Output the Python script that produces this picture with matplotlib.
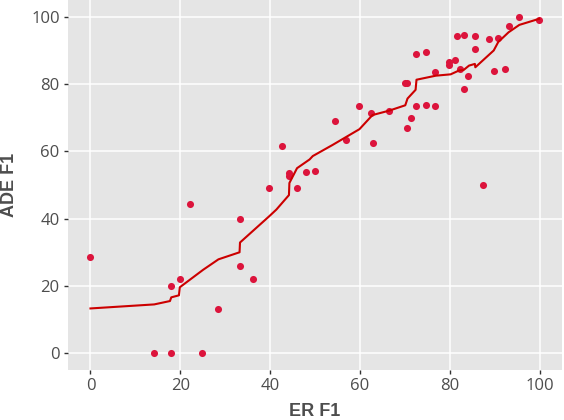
import matplotlib
matplotlib.use("Agg")
import matplotlib.pyplot as plt

# scatter points (ER F1, ADE F1)
er_f1 = [0, 14.2, 18.0, 24.8, 18.0, 19.9, 22.1, 28.5, 33.2, 33.2, 36.1,
         39.8, 42.7, 44.2, 44.2, 46.0, 47.9, 49.9, 54.4, 57.0, 59.9, 62.4,
         63.0, 66.4, 70.1, 70.4, 70.4, 71.3, 72.6, 72.5, 74.8, 74.8, 76.8,
         76.8, 79.8, 79.8, 81.2, 81.7, 83.1, 82.3, 84.0, 83.1, 85.6, 85.6,
         87.4, 88.8, 90.8, 89.9, 92.2, 93.1, 95.5, 99.9]
ade_f1 = [28.6, 0, 0, 0, 19.9, 22.2, 44.5, 13.2, 40.0, 25.9, 22.2,
          49.0, 61.6, 53.6, 52.6, 49.0, 53.9, 54.3, 69.1, 63.3, 73.4, 71.5,
          62.6, 71.9, 80.2, 80.2, 66.9, 69.9, 73.4, 89.0, 89.6, 73.8, 73.4,
          83.6, 86.5, 85.7, 87.3, 94.2, 94.5, 84.6, 82.5, 78.6, 94.2, 90.3,
          50.0, 93.3, 93.6, 83.9, 84.5, 97.2, 100.0, 99.2]

# smoothed trend line
trend_x = [0, 14.2, 17.7, 18.0, 19.7, 19.9, 25.1, 28.5, 33.2, 33.3, 39.8,
           41.4, 44.2, 44.3, 46.0, 48.8, 49.5, 53.9, 59.9, 62.8, 66.5, 70.1,
           70.6, 72.4, 72.6, 76.9, 80.2, 82.0, 83.1, 84.3, 85.6, 85.7, 89.8,
           90.8, 93.1, 95.5, 99.9]
trend_y = [13.3, 14.5, 15.5, 16.6, 17.2, 19.6, 24.8, 27.9, 30.0, 32.9, 40.7,
           42.7, 47.0, 50.6, 55.0, 57.6, 58.6, 61.9, 66.6, 70.8, 72.1, 73.7,
           75.7, 78.3, 81.3, 82.5, 82.9, 84.0, 84.2, 85.5, 86.0, 85.0, 90.0,
           92.5, 95.4, 97.6, 99.4]

ticks = [0, 20, 40, 60, 80, 100]

plt.rcParams['font.family'] = ['Open Sans', 'DejaVu Sans']

fig = plt.figure(figsize=(5.64, 4.2), dpi=100)
ax = fig.add_axes([68 / 564, 50 / 420, 494 / 564, 370 / 420])
ax.set_facecolor('#E5E5E5')
for s in ax.spines.values():
    s.set_visible(False)

ax.grid(True, color='white', linewidth=1.1)
ax.set_axisbelow(True)

ax.scatter(er_f1, ade_f1, s=26, color='#DC143C', zorder=3, linewidths=0)
ax.plot(trend_x, trend_y, color='#CC0000', linewidth=1.5, zorder=4)

ax.set_xlim(-5, 105)
ax.set_ylim(-5, 105)
ax.set_xticks(ticks)
ax.set_yticks(ticks)
ax.tick_params(axis='both', colors='#333333', length=3, width=1,
               labelsize=12, labelcolor='#4D4D4D', pad=3)

title_font = dict(fontsize=13, fontweight='bold', color='#4D4D4D',
                  family=['Liberation Sans', 'DejaVu Sans'])
ax.set_xlabel('ER F1', va='bottom', **title_font)
ax.set_ylabel('ADE F1', va='top', **title_font)
ax.xaxis.set_label_coords(0.5, -50 / 370)
ax.yaxis.set_label_coords(-67 / 494, 0.5)

fig.savefig('out.png', dpi=100)
